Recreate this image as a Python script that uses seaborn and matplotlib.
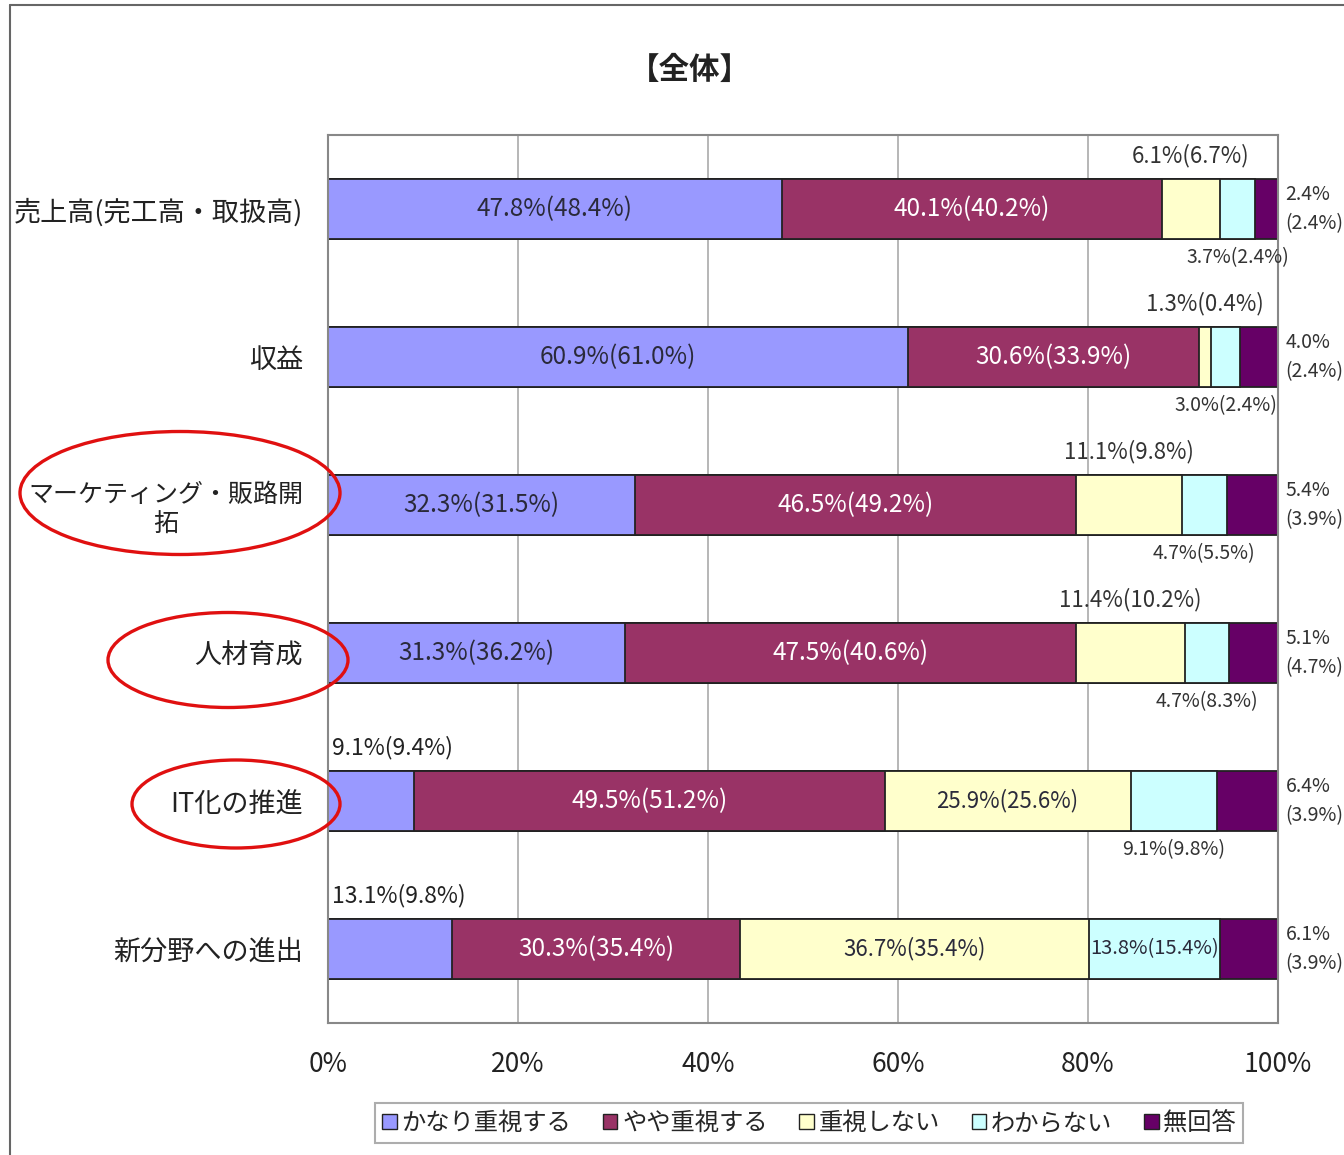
import numpy as np
import pandas as pd
import matplotlib.pyplot as plt
import seaborn as sns
from matplotlib.patches import Ellipse, Patch
from matplotlib.lines import Line2D

categories = ['売上高(完工高・取扱高)', '収益', 'マーケティング・販路開\n拓',
              '人材育成', 'IT化の推進', '新分野への進出']
series = ['かなり重視する', 'やや重視する', '重視しない', 'わからない', '無回答']
colors = ['#9999FF', '#993366', '#FFFFCC', '#CCFFFF', '#660066']

# 今回の値
kanari = [47.8, 60.9, 32.3, 31.3, 9.1, 13.1]
yaya = [40.1, 30.6, 46.5, 47.5, 49.5, 30.3]
shinai = [6.1, 1.3, 11.1, 11.4, 25.9, 36.7]
wakaranai = [3.7, 3.0, 4.7, 4.7, 9.1, 13.8]
mukaito = [2.4, 4.0, 5.4, 5.1, 6.4, 6.1]
# 括弧内の値
kanari_prev = [48.4, 61.0, 31.5, 36.2, 9.4, 9.8]
yaya_prev = [40.2, 33.9, 49.2, 40.6, 51.2, 35.4]
shinai_prev = [6.7, 0.4, 9.8, 10.2, 25.6, 35.4]
wakaranai_prev = [2.4, 2.4, 5.5, 8.3, 9.8, 15.4]
mukaito_prev = [2.4, 2.4, 3.9, 4.7, 3.9, 3.9]

sns.set_style('white')
plt.rcParams['font.family'] = ['Noto Sans CJK JP', 'DejaVu Sans']

vals = np.array([kanari, yaya, shinai, wakaranai, mukaito]).T
prev = np.array([kanari_prev, yaya_prev, shinai_prev, wakaranai_prev, mukaito_prev]).T
share = vals / vals.sum(axis=1, keepdims=True) * 100   # 100%積み上げ
cum = share.cumsum(axis=1)

fig = plt.figure(figsize=(13.44, 11.55), dpi=100)
ax = fig.add_axes([0.2440, 0.1143, 0.7068, 0.7688])

# 累積を長い順に重ねて描く
for k in reversed(range(len(series))):
    sns.barplot(x=cum[:, k], y=categories, color=colors[k], orient='h', width=0.4,
                saturation=1, edgecolor='#222222', linewidth=1.3, ax=ax, zorder=2)

ax.set_xlim(0, 100)
ax.set_ylim(5.5, -0.5)
ax.set_xticks([0, 20, 40, 60, 80, 100])
ax.set_xticklabels(['0%', '20%', '40%', '60%', '80%', '100%'])
ax.set_xlabel('')
ax.set_ylabel('')
ax.grid(axis='x', color='#aaaaaa', lw=1.2)
ax.set_axisbelow(True)
for s in ax.spines.values():
    s.set_color('#888888')
    s.set_linewidth(1.5)
ax.tick_params(axis='x', length=0, pad=20, labelsize=19, labelcolor='#222222')
ax.tick_params(axis='y', length=0, pad=18, labelsize=19.5, labelcolor='#222222')
ax.set_yticks(np.arange(-0.5, 5.6, 1), minor=True)
ax.tick_params(axis='y', which='minor', length=5, direction='in', color='#888888')
for lab in ax.get_yticklabels():
    lab.set_multialignment('center')
    if '\n' in lab.get_text():
        lab.set_fontsize(18)

txt_dark = '#2a2a3a'
for i in range(len(categories)):
    for k in range(len(series)):
        v, p = vals[i, k], prev[i, k]
        left = cum[i, k] - share[i, k]
        mid = left + share[i, k] / 2
        s = f'{v:.1f}%({p:.1f}%)'
        if k == 4:
            ax.text(100.8, i, f'{v:.1f}%\n({p:.1f}%)', ha='left', va='center',
                    fontsize=14, color='#333333', linespacing=1.5, clip_on=False)
        elif k == 0 and v < 15:
            ax.text(0.4, i - 0.36, s, ha='left', va='center', fontsize=16.5, color='#222222')
        elif k == 2 and v < 15:
            ax.text(mid, i - 0.36, s, ha='center', va='center', fontsize=16, color='#333333')
        elif k == 3 and v < 10:
            ax.text(mid, i + 0.33, s, ha='center', va='center', fontsize=14, color='#333333')
        else:
            col = 'white' if k == 1 else txt_dark
            fs = 17.5 if k < 2 else (16 if k == 2 else 14.5)
            ax.text(mid, i, s, ha='center', va='center', fontsize=fs, color=col, zorder=5)

fig.text(0.5134, 1 - 70 / 1155, '【全体】', ha='center', va='center', fontsize=22,
         fontweight='bold', color='#222222')

handles = [Patch(facecolor=c, edgecolor='#222222', lw=1) for c in colors]
leg = fig.legend(handles, series, loc='center', bbox_to_anchor=(0.602, 1 - 1123 / 1155),
                 ncol=5, fontsize=17.5, frameon=True, fancybox=False, edgecolor='#999999',
                 handlelength=0.6, handleheight=0.6, handletextpad=0.2, columnspacing=1.3,
                 borderpad=0.3)
leg.get_frame().set_linewidth(1.5)

# 丸で囲んだ項目
for cx, cy, w, h in [(180, 493, 320, 123), (228, 660, 240, 95), (236, 804, 208, 88)]:
    fig.add_artist(Ellipse((cx / 1344, 1 - cy / 1155), w / 1344, h / 1155,
                           transform=fig.transFigure, fill=False, edgecolor='#e01010', lw=2.4))

# 外枠
fig.add_artist(Line2D([10 / 1344, 10 / 1344], [0, 1 - 5 / 1155], transform=fig.transFigure,
                      color='#666666', lw=1.5))
fig.add_artist(Line2D([10 / 1344, 1], [1 - 5 / 1155, 1 - 5 / 1155], transform=fig.transFigure,
                      color='#666666', lw=1.5))

fig.savefig('out.png', dpi=100)
